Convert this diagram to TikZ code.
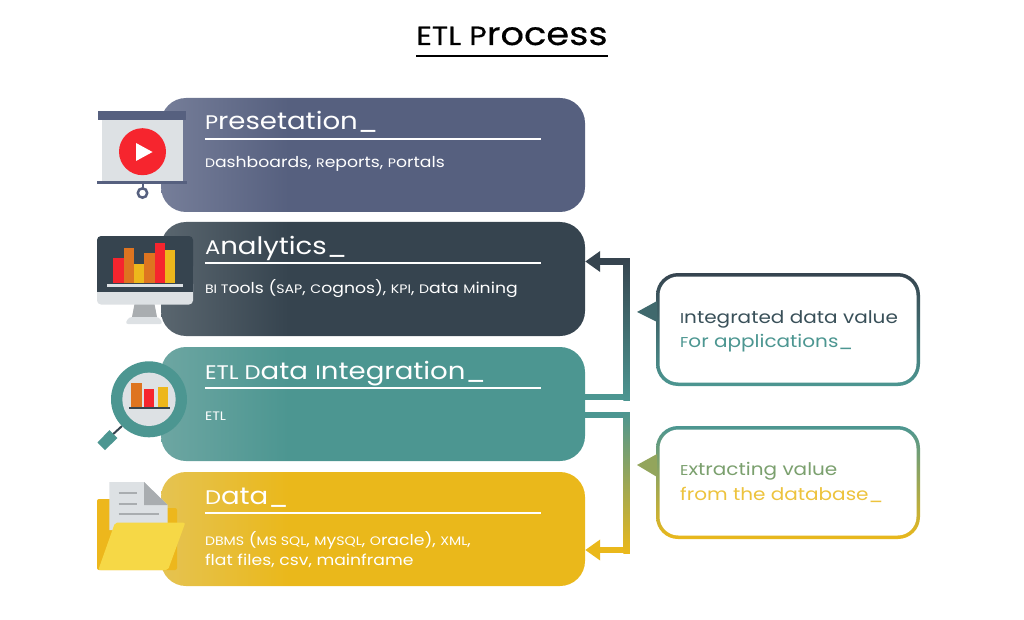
\documentclass[tikz,border=0pt]{standalone}
\usepackage{fontspec}
\setmainfont[FakeStretch=1.15]{Poppins}
\newfontfamily\titlefont[FakeStretch=1.15,FakeBold=0.5]{Poppins}
\newcommand\uc[1]{{\addfontfeature{Scale=0.82}#1}}
\usetikzlibrary{arrows.meta}
\definecolor{slate}{HTML}{56607F}
\definecolor{slatel}{HTML}{767E99}
\definecolor{coal}{HTML}{36444F}
\definecolor{coall}{HTML}{5A666F}
\definecolor{teal}{HTML}{4C9691}
\definecolor{teall}{HTML}{6DA6A2}
\definecolor{gold}{HTML}{EAB81B}
\definecolor{goldl}{HTML}{E5C352}
\definecolor{pale}{HTML}{DDE1E4}
\definecolor{redb}{HTML}{F6252E}
\definecolor{orng}{HTML}{DE7420}
\definecolor{yelb}{HTML}{EDB71C}
\definecolor{folder}{HTML}{F6D846}
\definecolor{greyl}{HTML}{A9ADB0}
\pgfdeclarehorizontalshading{presshade}{100bp}{color(0bp)=(slatel);color(25bp)=(slatel);color(40bp)=(slate);color(100bp)=(slate)}
\pgfdeclarehorizontalshading{analshade}{100bp}{color(0bp)=(coall);color(25bp)=(coall);color(40bp)=(coal);color(100bp)=(coal)}
\pgfdeclarehorizontalshading{etlshade}{100bp}{color(0bp)=(teall);color(25bp)=(teall);color(40bp)=(teal);color(100bp)=(teal)}
\pgfdeclarehorizontalshading{datashade}{100bp}{color(0bp)=(goldl);color(25bp)=(goldl);color(40bp)=(gold);color(100bp)=(gold)}
\tikzset{
	barbox/.style={shade,minimum width=424pt,minimum height=114pt,rounded corners=25pt,inner sep=0pt},
	headtxt/.style={anchor=base west,inner sep=0pt,text=white,font=\fontsize{24}{26}\selectfont},
	subtxt/.style={anchor=base west,inner sep=0pt,text=white,align=left,font=\fontsize{15}{20}\selectfont},
	flowline/.style={line width=6.5pt},
	callbox/.style={minimum width=264pt,minimum height=113pt,rounded corners=22pt,inner sep=0pt},
	callin/.style={fill=white,minimum width=257pt,minimum height=106pt,rounded corners=19pt,inner sep=0pt},
	calltxt/.style={anchor=west,inner sep=0pt,align=left,font=\fontsize{17.4}{24.5}\selectfont}
}
\begin{document}
\begin{tikzpicture}[>={Triangle[length=15pt,width=20pt]},x=1pt,y=-1pt]
	\useasboundingbox (0,0) rectangle (1024,620);
	\node[inner sep=0pt,anchor=base,font=\titlefont\fontsize{32}{34}\selectfont] (title) at (512,45) {\uc{ETL P}rocess};
	\draw[line width=2pt] (416,56.5) -- (608,56.5);
	\foreach \nm/\yy/\shd/\hd/\dy/\sub in {
		pres/155/presshade/{\uc{P}resetation\_}/13/{\uc{D}ashboards, \uc{R}eports, \uc{P}ortals},
		anal/279/analshade/{\uc{A}nalytics\_}/14/{\uc{BI T}ools (\uc{SAP}, \uc{C}ognos), \uc{KPI}, \uc{D}ata \uc{M}ining},
		etl/404/etlshade/{\uc{ETL D}ata \uc{I}ntegration\_}/16/{\uc{ETL}},
		data/529/datashade/{\uc{D}ata\_}/36/{\uc{DBMS} (\uc{MS SQL}, \uc{M}y\uc{SQL}, \uc{O}racle), \uc{XML},\\flat files, csv, mainframe}}{
		\node[barbox,shading=\shd] (\nm) at (373,\yy) {};
		\node[headtxt] (\nm head) at ([xshift=44pt,yshift=25pt]\nm.west) {\hd};
		\node[subtxt] (\nm sub) at ([xshift=44pt,yshift=-\dy pt]\nm.west) {\sub};
		\draw[white,line width=1.5pt] ([xshift=44pt,yshift=16pt]\nm.west) -- ([xshift=-44pt,yshift=16pt]\nm.east);
	}
	% connectors
	\coordinate (upa) at (626.5,397);
	\coordinate (upb) at (626.5,261.5);
	\coordinate (dna) at (626.5,415);
	\coordinate (dnb) at (626.5,550);
	\draw[flowline,teal] ([yshift=7pt]etl.east) -- ([xshift=3.25pt]upa);
	\draw[flowline,coal,->] ([xshift=3.25pt]upb) -- ([yshift=17.5pt]anal.east);
	\shade[top color=coal,bottom color=teal] ([xshift=-3.25pt,yshift=3pt]upb) rectangle ([xshift=3.25pt,yshift=-3pt]upa);
	\draw[flowline,teal] ([yshift=-11pt]etl.east) -- ([xshift=3.25pt]dna);
	\draw[flowline,gold,->] ([xshift=3.25pt]dnb) -- ([yshift=-21pt]data.east);
	\shade[top color=teal,bottom color=gold] ([xshift=-3.25pt,yshift=3pt]dna) rectangle ([xshift=3.25pt,yshift=-3pt]dnb);
	% callouts
	\node[callbox,top color=coal,bottom color=teal] (intbox) at (788,329.5) {};
	\node[callin] (intin) at (intbox) {};
	\fill[color=coal!55!teal] (657,301) -- (637,312) -- (657,322) -- cycle;
	\node[calltxt] (inttxt) at (680,331.5) {\textcolor{coal!85!teal}{\uc{I}ntegrated data value}\\\textcolor{teal}{\uc{F}or applications\_}};
	\node[callbox,top color=teal,bottom color=gold] (extbox) at (788,482.5) {};
	\node[callin] (extin) at (extbox) {};
	\fill[color=teal!55!gold] (657,454) -- (637,465) -- (657,477) -- cycle;
	\node[calltxt] (exttxt) at (680,482.5) {\textcolor{teal!70!gold}{\uc{E}xtracting value}\\\textcolor{gold!85!white}{from the database\_}};
	% presentation icon
	\fill[pale] (102,119) rectangle (183,182);
	\fill[slate] (98,111) rectangle (186,120.5);
	\fill[slate] (97,181) rectangle (187,184.5);
	\draw[slate,line width=2pt] (142.5,184) -- (142.5,188);
	\draw[slate,line width=2.5pt] (142.5,193) circle(4.7pt);
	\fill[redb] (142.5,151.7) circle(23.5pt);
	\fill[white] (136,143) -- (152.5,152) -- (136,161) -- cycle;
	% monitor icon
	\fill[greyl] (134.5,304) -- (154.5,304) -- (157,317) -- (132,317) -- cycle;
	\fill[pale,rounded corners=3pt] (125,324) -- (129,317) -- (159,317) -- (163,324) -- cycle;
	\fill[pale,rounded corners=4pt] (97,280) rectangle (193,304.5);
	\fill[coal,rounded corners=4pt] (97,236) rectangle (193,270);
	\fill[coal] (97,250) rectangle (193,292);
	\foreach \xa/\xb/\tp/\cl in {113.3/124/257.7/redb,124/134/248/orng,134/144.3/264/yelb,144.3/154.7/253/orng,154.7/164.7/242.7/redb,164.7/175/250/yelb}{
		\fill[\cl] (\xa,\tp) rectangle (\xb,282.7);
	}
	\fill[pale] (107,283.5) rectangle (183,286.5);
	% magnifier icon
	\draw[coal,line width=2pt] (122,426) -- (110,437);
	\fill[teal] (97.5,442.5) -- (109.5,430) -- (117.5,438) -- (105,450) -- cycle;
	\fill[teal] (149,399.3) circle(38pt);
	\fill[pale] (149,399.3) circle(26.7pt);
	\foreach \xa/\xb/\tp/\cl in {130.7/141.7/382.7/orng,144.3/154.3/389.3/redb,157.7/168.3/387.3/yelb}{
		\fill[\cl] (\xa,\tp) rectangle (\xb,407);
	}
	\fill[coal] (129.3,406.7) rectangle (170,409);
	% folder icon
	\fill[yelb,rounded corners=2pt] (97,499) -- (125,499) -- (125,508) -- (177,508) -- (177,570) -- (97,570) -- cycle;
	\fill[pale] (109.3,482) -- (144,482) -- (167.7,505) -- (167.7,530) -- (109.3,530) -- cycle;
	\fill[greyl] (144,482) -- (167.7,505) -- (144,505) -- cycle;
	\draw[greyl,line width=2.2pt] (118.7,493.3) -- (137,493.3);
	\draw[greyl,line width=2.2pt] (118.7,504) -- (137,504);
	\draw[greyl,line width=2.2pt] (118.7,514.3) -- (158.7,514.3);
	\fill[folder,rounded corners=2pt] (115,522.7) -- (185.3,522.7) -- (168,570) -- (98.3,570) -- cycle;
\end{tikzpicture}
\end{document}
